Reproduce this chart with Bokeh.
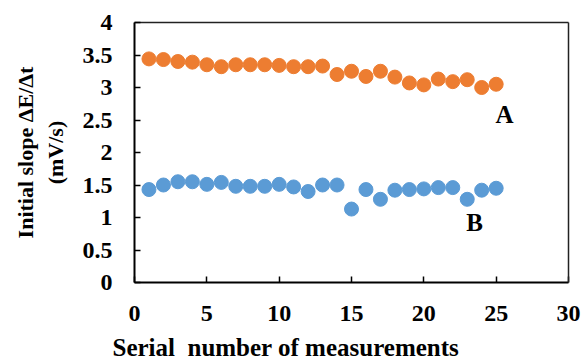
from bokeh.plotting import figure
from bokeh.models import Range1d, FixedTicker, Label, Title, LinearAxis
from bokeh.embed import file_html
from bokeh.resources import INLINE

# ---- data ----
serial = list(range(1, 26))
series_a = [3.44, 3.43, 3.40, 3.39, 3.35, 3.32, 3.35, 3.35, 3.35, 3.34, 3.32, 3.32, 3.33,
            3.20, 3.25, 3.17, 3.25, 3.16, 3.07, 3.04, 3.13, 3.09, 3.12, 3.00, 3.05]
series_b = [1.43, 1.50, 1.55, 1.55, 1.51, 1.54, 1.48, 1.48, 1.48, 1.51, 1.47, 1.40, 1.50,
            1.50, 1.13, 1.43, 1.28, 1.42, 1.43, 1.44, 1.46, 1.46, 1.28, 1.42, 1.45]
x_ticks = [0, 5, 10, 15, 20, 25, 30]
y_ticks = [0, 0.5, 1, 1.5, 2, 2.5, 3, 3.5, 4]
y_tick_labels = ["0", "0.5", "1", "1.5", "2", "2.5", "3", "3.5", "4"]
x_title = "Serial\u00a0 number of measurements"
y_title = "Initial slope \u0394E/\u0394t\n(mV/s)"

FONT = "Liberation Serif"
ORANGE = "#ED7D31"
BLUE = "#5B9BD5"

p = figure(frame_width=434, frame_height=260, output_backend="svg", toolbar_location=None,
           x_range=Range1d(0, 30), y_range=Range1d(0, 4),
           min_border_left=134, min_border_right=14, min_border_top=22, min_border_bottom=82)
p.background_fill_color = "white"
p.border_fill_color = "white"
p.outline_line_color = None
p.xgrid.visible = False
p.ygrid.visible = False

for ax in (p.xaxis[0], p.yaxis[0]):
    ax.axis_line_color = "black"
    ax.axis_line_width = 2
    ax.major_tick_line_color = "black"
    ax.major_tick_line_width = 1.5
    ax.major_tick_in = 6
    ax.major_tick_out = 0
    ax.minor_tick_line_color = None
    ax.major_label_text_font = FONT
    ax.major_label_text_font_style = "bold"
    ax.major_label_text_font_size = "24px"
    ax.major_label_text_color = "black"

p.xaxis.ticker = FixedTicker(ticks=x_ticks)
p.xaxis.major_label_overrides = {t: str(t) for t in x_ticks}
p.xaxis.major_label_standoff = 23
p.yaxis.ticker = FixedTicker(ticks=y_ticks)
p.yaxis.major_label_overrides = dict(zip(y_ticks, y_tick_labels))
p.yaxis.major_label_standoff = 22
p.yaxis.axis_label = y_title
p.yaxis.axis_label_text_font = FONT
p.yaxis.axis_label_text_font_style = "bold"
p.yaxis.axis_label_text_font_size = "22px"
p.yaxis.axis_label_text_color = "black"
p.yaxis.axis_label_standoff = 12

# frame border on top and right
for loc in ("above", "right"):
    a = LinearAxis(major_tick_line_color=None, minor_tick_line_color=None,
                   major_label_text_font_size="0px", axis_line_color="#222222",
                   axis_line_width=1.5, major_label_standoff=0)
    a.ticker = FixedTicker(ticks=[])
    p.add_layout(a, loc)

p.scatter(serial, series_a, size=14, color=ORANGE, line_color=ORANGE)
p.scatter(serial, series_b, size=14, color=BLUE, line_color=BLUE)

def lab(x, y, text, size):
    p.add_layout(Label(x=x, y=y, text=text, text_align="center",
                       text_baseline="middle", text_font=FONT,
                       text_font_style="bold", text_font_size=size, text_color="black"))

lab(25.58, 2.59, "A", "25px")
lab(23.5, 0.92, "B", "25px")

t = Title(text=x_title, align="left", offset=-22, text_font=FONT, text_font_style="bold",
          text_font_size="25px", text_color="black", standoff=16)
p.add_layout(t, "below")

open("out.html", "w").write(file_html(p, INLINE))
